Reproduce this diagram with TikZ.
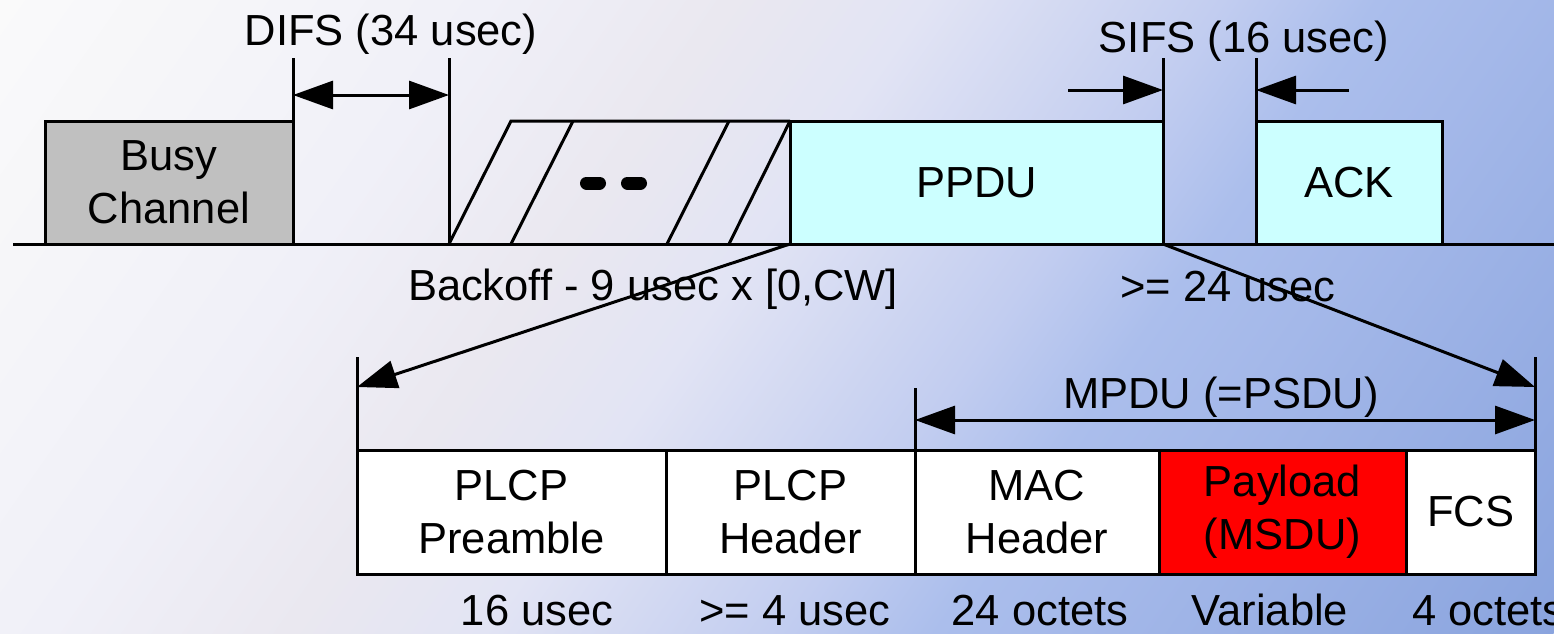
\documentclass[tikz,border=0pt]{standalone}
\usepackage{fontspec}
\setmainfont{Liberation Sans}
\usetikzlibrary{arrows.meta}

% slide colours
\definecolor{busygray}{HTML}{C0C0C0}
\definecolor{framecyan}{HTML}{CCFFFF}
\definecolor{payloadred}{HTML}{FF0000}
\definecolor{bgA}{HTML}{FAFAFA}
\definecolor{bgB}{HTML}{F0F0F8}
\definecolor{bgC}{HTML}{EAE8F0}
\definecolor{bgD}{HTML}{E2E4F4}
\definecolor{bgE}{HTML}{C2CDF0}
\definecolor{bgF}{HTML}{ABBEEC}
\definecolor{bgG}{HTML}{A4B8E9}
\definecolor{bgH}{HTML}{8AA4DE}

% diagonal white-to-blue slide background
\pgfdeclarehorizontalshading{slidebg}{100bp}{%
  color(0bp)=(bgA); color(25bp)=(bgA); color(37.2bp)=(bgB);
  color(43.3bp)=(bgC); color(48.2bp)=(bgD); color(55.6bp)=(bgE);
  color(59.5bp)=(bgF); color(63.2bp)=(bgG); color(75bp)=(bgH);
  color(100bp)=(bgH)}

\tikzset{
  bigfont/.style={font=\fontsize{43.5}{53}\selectfont},
  lbl/.style={bigfont, inner sep=0pt, outer sep=0pt, align=center},
  field/.style={bigfont, draw, line width=3pt, inner sep=0pt, outer sep=0pt,
    anchor=north west, align=center},
  rule/.style={line width=3pt},
  tipend/.style={rule, -{Triangle[length=40pt,width=28pt]}},
  tipboth/.style={rule, {Triangle[length=40pt,width=28pt]}-{Triangle[length=40pt,width=28pt]}},
  blob/.style={line width=13pt, line cap=round},
}

\begin{document}
\begin{tikzpicture}[x=1pt, y=-1pt]
\useasboundingbox (0,0) rectangle (1554,633);

% background
\begin{scope}
  \clip (0,0) rectangle (1554,633);
  \begin{scope}[transform canvas={rotate=-35}]
    \shade[shading=slidebg] (0,-1200) rectangle (1636,1200);
  \end{scope}
\end{scope}

% ---------------- medium timeline ----------------
\coordinate (lineL) at (13,244);
\coordinate (lineR) at (1554,244);
\draw[rule] (lineL) -- (lineR);

\node[field, fill=busygray, minimum width=248pt, minimum height=123pt]
  (busy) at (45,121) {Busy\\Channel};

% backoff slots
\coordinate (bo0) at (449,244);
\coordinate (bo1) at (511,121);
\coordinate (bo2) at (511,244);
\coordinate (bo3) at (573,121);
\coordinate (bo4) at (667,244);
\coordinate (bo5) at (729,121);
\coordinate (bo6) at (729,244);

\node[field, fill=framecyan, minimum width=373pt, minimum height=123pt]
  (ppdu) at (790,121) {PPDU};
\node[field, fill=framecyan, minimum width=186pt, minimum height=123pt]
  (ack) at (1256,121) {ACK};

\draw[rule, line join=miter] (bo0) -- (bo1) -- (ppdu.north west);
\draw[rule] (bo2) -- (bo3);
\draw[rule] (bo4) -- (bo5);
\draw[rule] (bo6) -- (ppdu.north west);
\draw[blob] (586.5,183) -- (599.5,183);
\draw[blob] (627.5,183) -- (640.5,183);

% DIFS
\coordinate (difsTopA) at (293,58);
\coordinate (difsTopB) at (449,58);
\draw[rule] (busy.north east) -- (difsTopA);
\draw[rule] (bo0) -- (difsTopB);
\coordinate (difsL) at (293,95);
\coordinate (difsR) at (449,95);
\draw[tipboth] (difsL) -- (difsR);
\node[lbl, anchor=base] (difs) at (391,45) {DIFS (34 usec)};

% SIFS
\coordinate (sifsTopA) at (1163,58);
\coordinate (sifsTopB) at (1256,58);
\coordinate (ackFoot) at (1256,244);
\draw[rule] (ppdu.south east) -- (sifsTopA);
\draw[rule] (ackFoot) -- (sifsTopB);
\coordinate (sifsTailL) at (1068,90);
\coordinate (sifsL) at (1163,90);
\coordinate (sifsTailR) at (1349,90);
\coordinate (sifsR) at (1256,90);
\draw[tipend] (sifsTailL) -- (sifsL);
\draw[tipend] (sifsTailR) -- (sifsR);
\node[lbl, anchor=base] (sifs) at (1244,52) {SIFS (16 usec)};

\node[lbl, anchor=base] (backoff) at (653,300) {Backoff - 9 usec x [0,CW]};
\node[lbl, anchor=base] (gap) at (1228,301) {>= 24 usec};

% ---------------- PPDU layout ----------------
\node[field, fill=white, minimum width=309pt, minimum height=124pt]
  (pre) at (357,450) {PLCP\\Preamble};
\node[field, fill=white, minimum width=249pt, minimum height=124pt]
  (hdr) at (666,450) {PLCP\\Header};
\node[field, fill=white, minimum width=244pt, minimum height=124pt]
  (mac) at (915,450) {MAC\\Header};
\node[field, fill=payloadred, minimum width=247pt, minimum height=124pt]
  (pay) at (1159,450) {Payload\\(MSDU)};
\node[field, fill=white, minimum width=129pt, minimum height=124pt]
  (fcs) at (1406,450) {FCS};

% expansion of the PPDU
\coordinate (edgeL) at (357,357);
\coordinate (edgeR) at (1535,357);
\draw[rule] (pre.north west) -- (edgeL);
\draw[rule] (fcs.north east) -- (edgeR);
\coordinate (hitL) at (357,387);
\coordinate (hitR) at (1535,387);
\draw[tipend] (ppdu.south west) -- (hitL);
\draw[tipend] (ppdu.south east) -- (hitR);

% MPDU span
\coordinate (mpduTop) at (915,388);
\draw[rule] (mac.north west) -- (mpduTop);
\coordinate (mpduL) at (915,420);
\coordinate (mpduR) at (1535,420);
\draw[tipboth] (mpduL) -- (mpduR);
\node[lbl, anchor=base] (mpdu) at (1221,408) {MPDU (=PSDU)};

% field durations and sizes
\node[lbl, anchor=base] (tPre) at (537,625) {16 usec};
\node[lbl, anchor=base] (tHdr) at (795,625) {>= 4 usec};
\node[lbl, anchor=base] (tMac) at (1040,625) {24 octets};
\node[lbl, anchor=base] (tPay) at (1270,625) {Variable};
\node[lbl, anchor=base west] (tFcs) at (1412,625) {4 octets};
\end{tikzpicture}
\end{document}
